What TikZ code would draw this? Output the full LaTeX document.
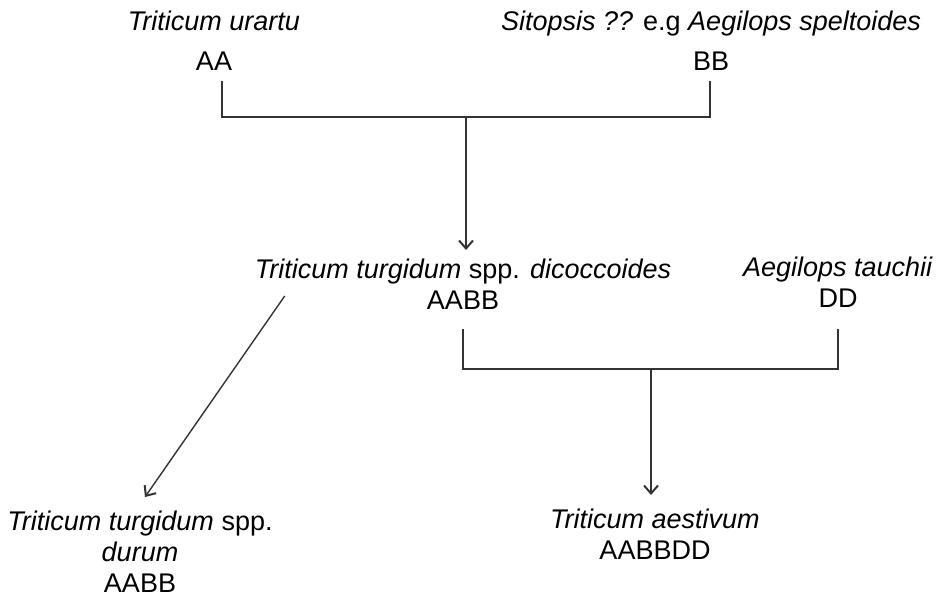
\documentclass[tikz,border=0pt]{standalone}
\usepackage{fontspec}
\setmainfont{Liberation Sans}
\usepackage{tikz}
\usetikzlibrary{arrows.meta,calc}

\tikzset{
  taxon/.style={font=\fontsize{27}{31}\selectfont, inner sep=0pt, align=center, anchor=north},
  crossline/.style={line width=1.4pt, draw=black!80},
  descent/.style={crossline, -{Straight Barb[length=8pt,width=14pt,line width=2pt]}}
}

\begin{document}
\begin{tikzpicture}[x=1pt,y=-1pt]

\useasboundingbox (0,0) rectangle (941,598);

% the two diploid parents
\node[taxon] (urartu) at (214,11) {\textit{Triticum urartu}\\[9pt] AA};
\node[taxon] (sitopsis) at (711,11) {\textit{Sitopsis ??} e.g \textit{Aegilops speltoides}\\[9pt] BB};

% emmer and the D donor
\node[taxon] (dicocc) at (463,259) {\textit{Triticum turgidum} spp. \textit{dicoccoides}\\ AABB};
\node[taxon] (tauschii) at (838,257) {\textit{Aegilops tauchii}\\ DD};

% the offspring
\node[taxon] (durum) at (140,511) {\textit{Triticum turgidum} spp.\\ \textit{durum}\\ AABB};
\node[taxon] (aestivum) at (655,509) {\textit{Triticum aestivum}\\ AABBDD};

% first cross AA x BB
\coordinate (cross1) at (466,117);
\draw[crossline] ([xshift=8pt,yshift=-10pt]urartu.south) |- (cross1) -| ([xshift=-1pt,yshift=-10pt]sitopsis.south);
\draw[descent] (cross1) -- ($(cross1 |- dicocc.north)+(0,-9)$);

% second cross AABB x DD
\coordinate (cross2) at (651,369);
\draw[crossline] ([yshift=-19pt]dicocc.south) |- (cross2) -| ([yshift=-21pt]tauschii.south);
\draw[descent] (cross2) -- ($(cross2 |- aestivum.north)+(0,-14)$);

% durum line
\draw[descent] ($(dicocc.south west)+(30,-14)$) -- ($(durum.north)+(5,-14)$);

\end{tikzpicture}
\end{document}
